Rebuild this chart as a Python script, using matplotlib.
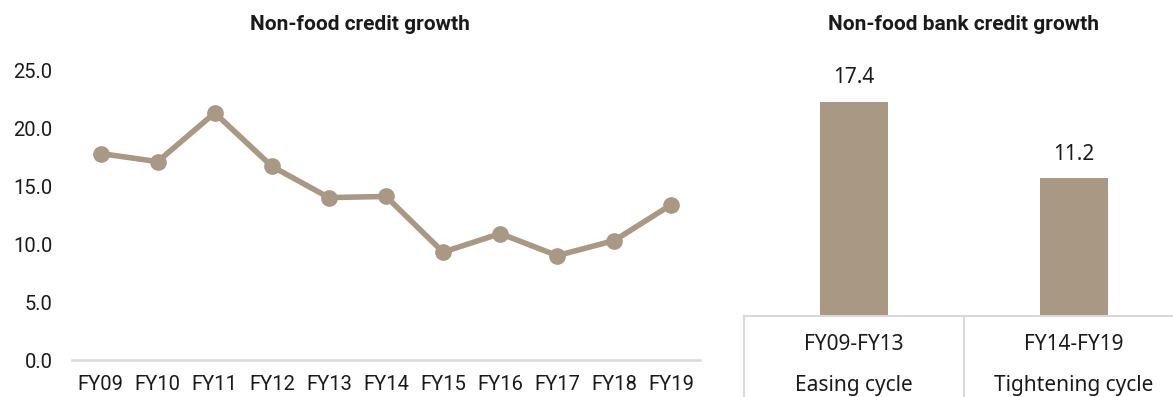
import matplotlib
matplotlib.use("Agg")
import matplotlib.pyplot as plt
from matplotlib.transforms import blended_transform_factory

# Non-food credit growth, % y/y
years = ["FY09", "FY10", "FY11", "FY12", "FY13", "FY14",
         "FY15", "FY16", "FY17", "FY18", "FY19"]
growth = [17.8, 17.1, 21.3, 16.7, 14.0, 14.1, 9.3, 10.9, 9.0, 10.3, 13.4]

# Average over policy cycles
cycles = ["FY09-FY13", "FY14-FY19"]
cycle_names = ["Easing cycle", "Tightening cycle"]
cycle_growth = [17.4, 11.2]

BROWN = "#A89884"
GRID = "#D9D9D9"
TXT = "#1a1a1a"
SANS2 = ["Noto Sans", "DejaVu Sans"]

plt.rcParams["font.family"] = ["Roboto", "DejaVu Sans"]

W, H = 1173, 397
fig = plt.figure(figsize=(W / 100, H / 100), dpi=100)

# left panel: line chart
ax = fig.add_axes([72 / W, (H - 360) / H, 628 / W, 290 / H])
x = range(len(years))
ax.plot(x, growth, color=BROWN, lw=4, marker="o", ms=11, solid_joinstyle="round")
ax.set_xlim(-0.5, len(years) - 0.5)
ax.set_ylim(0, 25)
ax.set_yticks([0, 5, 10, 15, 20, 25])
ax.set_yticklabels([f"{v:.1f}" for v in [0, 5, 10, 15, 20, 25]])
ax.set_xticks(list(x))
ax.set_xticklabels(years)
ax.tick_params(length=0, labelsize=14.5, colors=TXT)
ax.tick_params(axis="y", pad=14)
ax.tick_params(axis="x", pad=11)
for s in ["top", "right", "left"]:
    ax.spines[s].set_visible(False)
ax.spines["bottom"].set_color(GRID)
ax.spines["bottom"].set_linewidth(1.8)
fig.text(360 / W, 1 - 25 / H, "Non-food credit growth", ha="center", va="center",
         fontsize=15, fontweight="bold", color=TXT)

# right panel: bar chart with category table below
ax2 = fig.add_axes([744 / W, (H - 316) / H, 440 / W, 276 / H])
xb = range(len(cycles))
bars = ax2.bar(xb, cycle_growth, width=0.31, color=BROWN)
ax2.set_xlim(-0.5, 1.5)
ax2.set_ylim(0, 22.4)
ax2.axis("off")
for b, v in zip(bars, cycle_growth):
    ax2.annotate(f"{v:.1f}", (b.get_x() + b.get_width() / 2, v),
                 xytext=(0, 17), textcoords="offset points",
                 ha="center", va="center", fontsize=15, color=TXT, family=SANS2)

tr = blended_transform_factory(ax2.transData, ax2.transAxes)
ax2.plot([0, 1], [0, 0], transform=ax2.transAxes, color=GRID, lw=1.5, clip_on=False)
for xv in [-0.5, 0.5, 1.5]:
    ax2.plot([xv, xv], [0, -0.4], transform=tr, color=GRID, lw=1.5, clip_on=False)
for i, (c, n) in enumerate(zip(cycles, cycle_names)):
    ax2.text(i, -29 / 276, c, transform=tr, ha="center", va="center",
             fontsize=15, color=TXT, family=SANS2)
    ax2.text(i, -69 / 276, n, transform=tr, ha="center", va="center",
             fontsize=15, color=TXT, family=SANS2)
fig.text(964 / W, 1 - 25 / H, "Non-food bank credit growth", ha="center", va="center",
         fontsize=15, fontweight="bold", color=TXT)

fig.savefig("out.png", dpi=100)
